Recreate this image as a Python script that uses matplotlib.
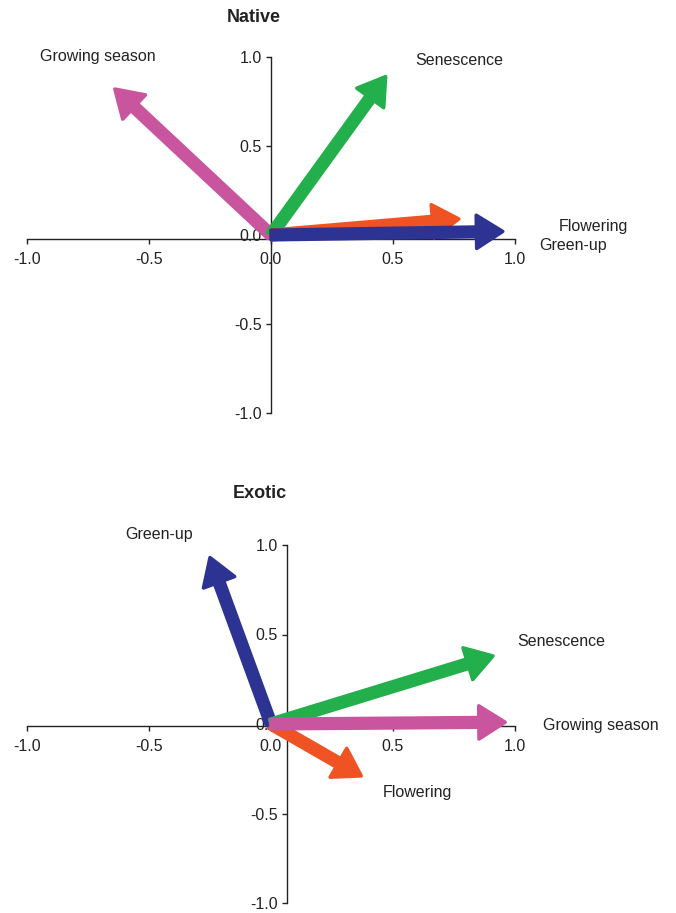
import matplotlib
matplotlib.use("Agg")
import matplotlib.pyplot as plt
from matplotlib.patches import FancyArrowPatch

plt.rcParams['font.family'] = ['Liberation Sans', 'DejaVu Sans']

# Native panel: trait loadings (arrow tips)
native_traits = ['Growing season', 'Senescence', 'Flowering', 'Green-up']
native_x = [-0.64, 0.47, 0.77, 0.95]
native_y = [0.82, 0.89, 0.09, 0.02]
native_lab_x = [-0.71, 0.77, 1.32, 1.24]
native_lab_y = [1.00, 0.98, 0.045, -0.06]

# Exotic panel
exotic_traits = ['Flowering', 'Green-up', 'Senescence', 'Growing season']
exotic_x = [0.37, -0.25, 0.91, 0.96]
exotic_y = [-0.29, 0.93, 0.38, 0.01]
exotic_lab_x = [0.60, -0.46, 1.19, 1.35]
exotic_lab_y = [-0.385, 1.06, 0.46, -0.01]

ticks = [-1.0, -0.5, 0.0, 0.5, 1.0]
tick_labels = ['-1.0', '-0.5', '0.0', '0.5', '1.0']

colors = {'Growing season': '#c9559f', 'Senescence': '#23b04c',
          'Flowering': '#f05323', 'Green-up': '#2d3393'}

fig = plt.figure(figsize=(6.76, 9.13), dpi=100)
ax1 = fig.add_axes([27/676, 1 - 413/913, 488/676, 356/913])
ax2 = fig.add_axes([27/676, 1 - 903/913, 488/676, 358/913])


def setup(ax, yaxis_x, xaxis_y, title, tx, ty):
    ax.set_xlim(-1, 1)
    ax.set_ylim(-1, 1)
    for s in ['top', 'right']:
        ax.spines[s].set_visible(False)
    ax.spines['left'].set_position(('data', yaxis_x))
    ax.spines['bottom'].set_position(('data', xaxis_y))
    for s in ['left', 'bottom']:
        ax.spines[s].set_color('#222222')
        ax.spines[s].set_linewidth(1.0)
        ax.spines[s].set_zorder(1)
    ax.set_xticks(ticks)
    ax.set_xticklabels(tick_labels)
    ax.set_yticks(ticks)
    ax.set_yticklabels(tick_labels)
    ax.tick_params(direction='out', length=3.5, width=1.0, color='#222222',
                   labelsize=11.5, labelcolor='#222222', pad=3)
    ax.tick_params(axis='x', pad=6)
    ax.patch.set_visible(False)
    ax.text(tx, ty, title, fontsize=13, fontweight='bold', ha='center',
            va='center', color='#222222', clip_on=False)


def draw(ax, traits, xs, ys, lx, ly):
    for i, t in enumerate(traits):
        arr = FancyArrowPatch((0, 0), (xs[i], ys[i]),
                              arrowstyle='simple,head_length=19,head_width=24,tail_width=7',
                              mutation_scale=1, shrinkA=0, shrinkB=0,
                              facecolor=colors[t], edgecolor=colors[t],
                              linewidth=2.5, joinstyle='round',
                              zorder=3 + i, clip_on=False)
        ax.add_patch(arr)
        ax.text(lx[i], ly[i], t, fontsize=11.5, ha='center', va='center',
                color='#222222', clip_on=False)


setup(ax1, 0.0, -0.02, 'Native', -0.07, 1.22)
draw(ax1, native_traits, native_x, native_y, native_lab_x, native_lab_y)

setup(ax2, 0.065, -0.01, 'Exotic', -0.045, 1.29)
draw(ax2, exotic_traits, exotic_x, exotic_y, exotic_lab_x, exotic_lab_y)

fig.savefig('out.png', dpi=100)
